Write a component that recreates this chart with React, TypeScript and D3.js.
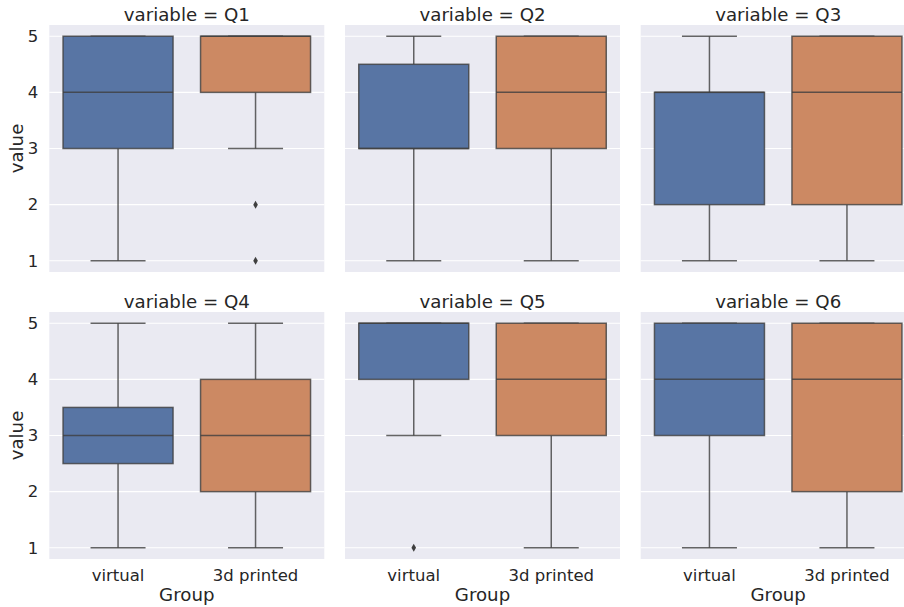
import * as d3 from 'd3';
import React from 'react';

// box stats per question: [lowWhisker, q1, median, q3, highWhisker]
const questions = ['Q1', 'Q2', 'Q3', 'Q4', 'Q5', 'Q6'];
const groups = ['virtual', '3d printed'];
const virtualStats = [
  [1, 3, 4, 5, 5],
  [1, 3, 3, 4.5, 5],
  [1, 2, 4, 4, 5],
  [1, 2.5, 3, 3.5, 5],
  [3, 4, 5, 5, 5],
  [1, 3, 4, 5, 5],
];
const printedStats = [
  [3, 4, 5, 5, 5],
  [1, 3, 4, 5, 5],
  [1, 2, 4, 5, 5],
  [1, 2, 3, 4, 5],
  [1, 3, 4, 5, 5],
  [1, 2, 4, 5, 5],
];
const virtualOutliers = [[], [], [], [], [1], []];
const printedOutliers = [[2, 1], [], [], [], [], []];
const yTicks = [1, 2, 3, 4, 5];

const colors = ['#5875a4', '#cc8963'];
const lineColor = '#3f3f3f';
const textColor = '#262626';
const font = 'DejaVu Sans, sans-serif';

const W = 904;
const H = 607;
const panelW = 275;
const panelH = 247;
const colX = [49.3, 345, 640.7];
const rowY = [25, 312];

const Panel: React.FC<{ idx: number }> = ({ idx }) => {
  const col = idx % 3;
  const row = Math.floor(idx / 3);
  const x0 = colX[col];
  const y0 = rowY[row];

  const x = d3.scaleBand<string>().domain(groups).range([0, panelW]);
  const y = d3.scaleLinear().domain([0.8, 5.2]).range([panelH, 0]);
  const bw = x.bandwidth() * 0.8;
  const stats = [virtualStats[idx], printedStats[idx]];
  const outs = [virtualOutliers[idx], printedOutliers[idx]];

  return (
    <g transform={`translate(${x0},${y0})`}>
      <rect width={panelW} height={panelH} fill="#eaeaf2" />
      {yTicks.map(t => (
        <line key={t} x1={0} x2={panelW} y1={y(t)} y2={y(t)} stroke="#ffffff" strokeWidth={1.2} />
      ))}
      {groups.map((g, i) => {
        const [lo, q1, med, q3, hi] = stats[i];
        const cx = (x(g) || 0) + x.bandwidth() / 2;
        return (
          <g key={g}>
            <line x1={cx} x2={cx} y1={y(lo)} y2={y(q1)} stroke={lineColor} strokeWidth={1.5} strokeOpacity={0.8} />
            <line x1={cx} x2={cx} y1={y(q3)} y2={y(hi)} stroke={lineColor} strokeWidth={1.5} strokeOpacity={0.8} />
            <line x1={cx - bw / 4} x2={cx + bw / 4} y1={y(lo)} y2={y(lo)} stroke={lineColor} strokeWidth={1.5} strokeOpacity={0.8} />
            <line x1={cx - bw / 4} x2={cx + bw / 4} y1={y(hi)} y2={y(hi)} stroke={lineColor} strokeWidth={1.5} strokeOpacity={0.8} />
            <rect x={cx - bw / 2} y={y(q3)} width={bw} height={y(q1) - y(q3)} fill={colors[i]} stroke={lineColor} strokeWidth={1.5} strokeOpacity={0.8} />
            <line x1={cx - bw / 2} x2={cx + bw / 2} y1={y(med)} y2={y(med)} stroke={lineColor} strokeWidth={1.5} strokeOpacity={0.8} />
            {outs[i].map((v, k) => (
              <path key={k} d={`M${cx},${y(v) - 4} L${cx + 2.3},${y(v)} L${cx},${y(v) + 4} L${cx - 2.3},${y(v)} Z`} fill={lineColor} />
            ))}
          </g>
        );
      })}
      <text x={panelW / 2} y={-4} textAnchor="middle" fontSize={18.2} fill={textColor} fontFamily={font}>
        {`variable = ${questions[idx]}`}
      </text>
      {col === 0 && yTicks.map(t => (
        <text key={t} x={-11} y={y(t)} dy="0.35em" textAnchor="end" fontSize={16.5} fill={textColor} fontFamily={font}>
          {t}
        </text>
      ))}
      {col === 0 && (
        <text transform={`translate(-26,${panelH / 2}) rotate(-90)`} textAnchor="middle" fontSize={18.2} fill={textColor} fontFamily={font}>
          value
        </text>
      )}
      {row === 1 && groups.map(g => (
        <text key={g} x={(x(g) || 0) + x.bandwidth() / 2} y={panelH + 22} textAnchor="middle" fontSize={16.5} fill={textColor} fontFamily={font}>
          {g}
        </text>
      ))}
      {row === 1 && (
        <text x={panelW / 2} y={panelH + 42} textAnchor="middle" fontSize={18.2} fill={textColor} fontFamily={font}>
          Group
        </text>
      )}
    </g>
  );
};

const App: React.FC = () => (
  <svg width={W} height={H} style={{ position: 'absolute', left: 0, top: 0, background: '#ffffff' }}>
    {questions.map((q, i) => (
      <Panel key={q} idx={i} />
    ))}
  </svg>
);

export default App;
